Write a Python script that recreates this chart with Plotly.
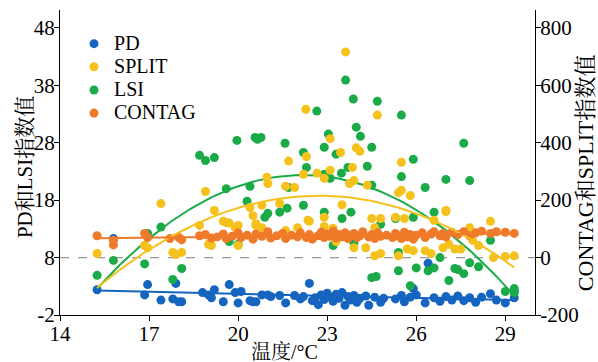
import numpy as np
import plotly.graph_objects as go

# ---------------- data ----------------
pd_temp = [15.25, 15.8, 16.85, 16.95, 17.4, 17.8, 17.9, 18.0, 18.1, 18.8, 19.0, 19.1, 19.2, 19.5,
           19.7, 19.9, 20.0, 20.1, 20.4, 20.5, 20.6, 20.8, 21.0, 21.1, 21.4, 21.6, 21.9, 22.1,
           22.2, 22.4, 22.5, 22.6, 22.7, 22.8, 22.9, 23.0, 23.1, 23.2, 23.3, 23.4, 23.5, 23.6,
           23.7, 23.8, 23.9, 24.0, 24.1, 24.3, 24.4, 24.6, 24.8, 24.9, 25.3, 25.5, 25.6, 25.8,
           25.9, 26.0, 26.3, 26.4, 26.6, 26.8, 27.0, 27.2, 27.4, 27.6, 27.8, 28.0, 28.2, 28.5,
           28.7, 29.0, 29.3, 29.3]
pd_val = [2.4, 11.3, 1.5, 3.3, 0.6, 0.8, 3.5, 0.3, 0.3, 1.9, 1.5, 1.0, 2.4, 0.3,
          3.3, 1.9, 0.1, 2.1, 0.5, 0.3, 0.3, 1.5, 1.5, 1.2, 1.4, 0.1, 1.4, 0.8,
          1.2, 3.5, 0.5, 1.0, -0.2, 1.5, 0.7, 1.8, 1.1, 0.4, 1.6, 0.9, 1.9, -0.3,
          1.2, 0.6, 1.4, 0.2, 0.9, 1.3, -0.3, 1.1, 0.2, 0.9, 0.8, 1.4, 0.3, 1.1,
          2.6, 1.5, 0.1, 7.0, 1.0, 0.4, 1.2, 0.6, 1.3, 0.5, 1.0, 0.2, 1.1, 1.7,
          0.6, 0.1, 2.1, 1.0]

lsi_temp = [15.25, 15.8, 16.85, 16.95, 17.4, 17.8, 18.1, 18.7, 18.9, 19.2, 19.6, 19.7, 19.96, 20.0,
            20.3, 20.4, 20.57, 20.65, 20.77, 20.9, 21.0, 21.4, 21.58, 21.65, 21.7, 22.2, 22.2, 22.3,
            22.65, 22.9, 22.9, 22.9, 23.04, 23.1, 23.2, 23.3, 23.48, 23.5, 23.62, 23.7, 23.8, 23.88,
            23.9, 23.98, 24.12, 24.35, 24.5, 24.5, 24.5, 24.65, 24.69, 24.8, 25.3, 25.4, 25.4, 25.5,
            25.5, 25.8, 25.9, 25.9, 26.0, 26.3, 26.4, 26.6, 26.6, 26.8, 27.0, 27.1, 27.3, 27.4,
            27.6, 27.6, 27.8, 27.8, 28.1, 28.5, 29.0, 29.3, 29.3]
lsi_val = [4.9, 7.5, 6.9, 12.2, 13.3, 4.2, 6.1, 25.8, 24.9, 25.4, 20.0, 10.8, 28.4, 10.3,
           17.8, 20.4, 28.9, 28.6, 28.9, 15.0, 15.7, 15.9, 27.9, 16.6, 20.2, 26.3, 17.1, 23.7,
           33.5, 27.2, 22.5, 15.9, 29.5, 21.8, 10.1, 26.0, 22.7, 14.8, 38.9, 23.7, 15.9, 35.6,
           10.6, 30.7, 29.1, 23.9, 27.2, 20.6, 4.5, 4.7, 35.2, 13.8, 14.8, 5.7, 8.9, 32.8,
           22.1, 3.1, 25.1, 15.0, 6.2, 20.2, 5.7, 15.9, 6.2, 8.0, 21.6, 4.0, 6.1, 5.9,
           27.9, 5.2, 21.4, 7.1, 6.4, 11.0, 2.1, 2.6, 1.9]

split_temp = [15.25, 16.85, 16.95, 17.4, 17.8, 17.9, 18.1, 18.7, 18.9, 19.0, 19.1, 19.2, 19.5, 19.6,
              19.7, 19.9, 20.0, 20.0, 20.4, 20.5, 20.6, 20.6, 20.8, 20.8, 20.97, 21.0, 21.4, 21.6,
              21.6, 21.7, 21.9, 22.0, 22.2, 22.28, 22.3, 22.35, 22.4, 22.66, 22.9, 22.9, 22.9, 23.1,
              23.1, 23.2, 23.3, 23.45, 23.5, 23.62, 23.75, 23.85, 23.9, 23.9, 23.98, 24.1, 24.3, 24.35,
              24.5, 24.6, 24.6, 24.69, 24.8, 24.8, 25.3, 25.4, 25.4, 25.5, 25.5, 25.6, 25.7, 25.8,
              25.9, 26.3, 26.5, 26.6, 26.9, 27.0, 27.0, 27.1, 27.3, 27.5, 27.8, 27.9, 28.1, 28.5,
              28.6, 29.0, 29.3]
split_val = [14, 42, 34, 188, 18, 10, 18, 112, 230, 46, 42, 164, 126, 122,
             120, 104, 112, 42, 174, 146, 118, 112, 182, 104, 280, 258, 188, 248,
             94, 336, 244, 104, 290, 516, 352, 130, 126, 294, 276, 140, 108, 414,
             304, 102, 56, 366, 184, 716, 258, 314, 268, 34, 382, 370, 34, 252,
             136, 104, 6, 496, 136, 14, 140, 226, 6, 332, 234, 136, 30, 216,
             24, 24, 14, 130, 34, 164, 160, 46, 30, 30, 104, 60, 42, 126,
             0, 4, 6]

contag_temp = [15.25, 15.8, 15.8, 16.85, 16.95, 17.7, 18.0, 18.1, 18.7, 18.9, 19.1, 19.3, 19.5, 19.6,
               19.8, 20.0, 20.1, 20.3, 20.5, 20.6, 20.8, 21.0, 21.1, 21.3, 21.5, 21.6, 21.8, 22.0,
               22.1, 22.3, 22.4, 22.5, 22.7, 22.8, 22.9, 23.0, 23.1, 23.2, 23.3, 23.4, 23.5, 23.6,
               23.7, 23.8, 23.9, 24.0, 24.1, 24.2, 24.4, 24.5, 24.6, 24.7, 24.8, 25.0, 25.2, 25.3,
               25.4, 25.5, 25.6, 25.7, 25.8, 25.9, 26.0, 26.2, 26.3, 26.5, 26.6, 26.8, 26.9, 27.0,
               27.2, 27.4, 27.6, 27.8, 28.0, 28.2, 28.5, 28.7, 29.0, 29.3]
contag_val = [76, 44, 60, 84, 70, 66, 70, 62, 76, 80, 68, 72, 82, 66,
              74, 86, 70, 78, 64, 82, 74, 90, 68, 76, 84, 66, 78, 72,
              86, 70, 80, 64, 76, 88, 70, 82, 74, 92, 68, 80, 72, 86,
              66, 78, 84, 70, 76, 90, 72, 80, 66, 86, 74, 78, 70, 84,
              76, 66, 88, 72, 80, 64, 78, 86, 70, 82, 90, 76, 84, 72,
              88, 80, 90, 76, 86, 92, 84, 90, 88, 84]

x_ticks = [14, 17, 20, 23, 26, 29]
y_left_ticks = [-2, 8, 18, 28, 38, 48]
y_right_ticks = [-200, 0, 200, 400, 600, 800]
y_left_ticktext = ["-2", "8", "18", "28", "38", "48"]
y_right_ticktext = ["-200", "0", "200", "400", "600", "800"]

x_title = "温度/°C"
y_left_title = "PD和LSI指数值"
y_right_title = "CONTAG和SPLIT指数值"

C_PD = "#1565c0"
C_SPLIT = "#f5c11c"
C_LSI = "#1aab48"
C_CONTAG = "#f07a2a"

FONT = "Liberation Serif, Times New Roman, Noto Serif CJK SC, Noto Sans CJK SC, serif"


def fit_curve(xs, ys, deg):
    xs = np.asarray(xs, float)
    ys = np.asarray(ys, float)
    c = np.polyfit(xs, ys, deg)
    xx = np.linspace(xs.min(), xs.max(), 100)
    return xx, np.polyval(c, xx)


def lname(s):
    return '<span style="font-size:20px">' + s + '</span>'


fig = go.Figure()
msize = 9

fig.add_trace(go.Scatter(x=pd_temp, y=pd_val, mode="markers", name=lname("PD"),
                         marker=dict(color=C_PD, size=msize), yaxis="y"))
fig.add_trace(go.Scatter(x=split_temp, y=split_val, mode="markers", name=lname("SPLIT"),
                         marker=dict(color=C_SPLIT, size=msize), yaxis="y2"))
fig.add_trace(go.Scatter(x=lsi_temp, y=lsi_val, mode="markers", name=lname("LSI"),
                         marker=dict(color=C_LSI, size=msize), yaxis="y"))
fig.add_trace(go.Scatter(x=contag_temp, y=contag_val, mode="markers", name=lname("CONTAG"),
                         marker=dict(color=C_CONTAG, size=msize), yaxis="y2"))

for xs, ys, col, ax, deg in [(pd_temp, pd_val, C_PD, "y", 1), (lsi_temp, lsi_val, C_LSI, "y", 2),
                             (split_temp, split_val, C_SPLIT, "y2", 2),
                             (contag_temp, contag_val, C_CONTAG, "y2", 2)]:
    xx, yy = fit_curve(xs, ys, deg)
    fig.add_trace(go.Scatter(x=xx, y=yy, mode="lines", line=dict(color=col, width=2),
                             showlegend=False, hoverinfo="skip", yaxis=ax))

fig.add_shape(type="line", xref="paper", yref="y", x0=0, x1=1, y0=8, y1=8,
              line=dict(color="#999999", width=1.2, dash="dash"), layer="below")

axis_common = dict(showline=True, linecolor="black", linewidth=1.3, ticks="outside",
                   ticklen=5, tickcolor="black", showgrid=False, zeroline=False,
                   automargin=False, ticklabelstandoff=-5,
                   tickfont=dict(family=FONT, size=21, color="black"))

title_font = dict(family=FONT, size=20, color="black")
fig.add_annotation(text=x_title, xref="paper", yref="paper", x=0.4716, y=-0.121,
                   xanchor="center", yanchor="middle", showarrow=False, font=title_font)
fig.add_annotation(text=y_left_title, xref="paper", yref="paper", x=-0.0737, y=0.485,
                   xanchor="center", yanchor="middle", showarrow=False, textangle=-90,
                   font=dict(family=FONT, size=21, color="black"))
fig.add_annotation(text=y_right_title, xref="paper", yref="paper", x=1.108, y=0.466,
                   xanchor="center", yanchor="middle", showarrow=False, textangle=-90,
                   font=dict(family=FONT, size=22, color="black"))

fig.update_layout(
    width=598, height=362,
    margin=dict(l=60, r=63, t=10, b=47),
    paper_bgcolor="white", plot_bgcolor="white",
    font=dict(family=FONT, color="black"),
    xaxis=dict(range=[14, 30], tickvals=x_ticks, **axis_common),
    yaxis=dict(range=[-2, 51.1], tickvals=y_left_ticks, ticktext=y_left_ticktext, **axis_common),
    yaxis2=dict(range=[-200, 862], tickvals=y_right_ticks, ticktext=y_right_ticktext,
                overlaying="y", side="right", **axis_common),
    legend=dict(x=0.0295, y=0.944, xanchor="left", yanchor="top",
                font=dict(family=FONT, size=15.5, color="black"),
                bgcolor="rgba(0,0,0,0)", itemwidth=30, tracegroupgap=0),
    showlegend=True,
)

fig.write_html("out.html", config={"displayModeBar": False},
               post_script="document.body.style.margin='0';")
